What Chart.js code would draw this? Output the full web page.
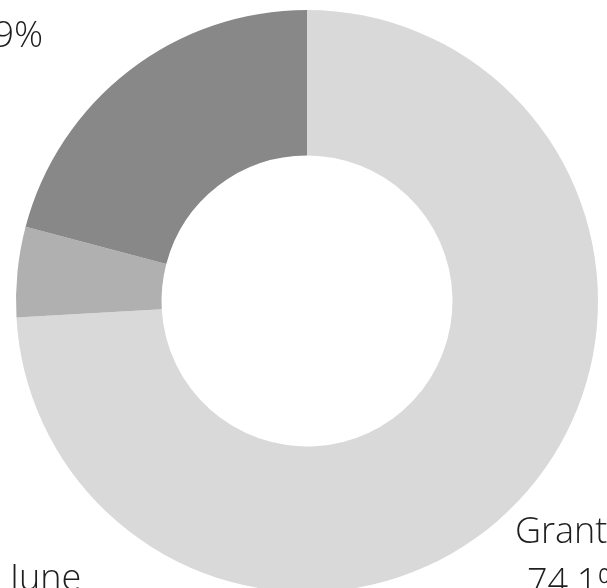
<!DOCTYPE html>
<html>
<head>
<meta charset="utf-8">
<style>
  html, body { margin: 0; padding: 0; background: #ffffff; overflow: hidden; }
  #wrap { width: 607px; height: 588px; overflow: hidden; }
  canvas { display: block; }
</style>
<script src="https://cdn.jsdelivr.net/npm/chart.js@4.4.1/dist/chart.umd.min.js"></script>
</head>
<body>
<div id="wrap"><canvas id="c" width="607" height="600"></canvas></div>
<script>
const categories = ["Grant", "June", "Other"];
const shares = [74.1, 5.0, 20.9];
const sliceColors = ["#d9d9d9", "#b0b0b0", "#888888"];

// label text anchors (relative to the doughnut centre), style only
const labelPlacement = [
  { dx: 208, dy: 242, align: "left", dx2: 220 },
  { dx: -297, dy: 289, align: "left", dx2: -297 },
  { dx: -264, dy: -305, align: "right", dx2: -264 }
];

const outerLabels = {
  id: "outerLabels",
  afterDatasetsDraw(chart) {
    const ctx = chart.ctx;
    const meta = chart.getDatasetMeta(0);
    const arc0 = meta.data[0];
    const cx = arc0.x, cy = arc0.y;
    ctx.save();
    ctx.fillStyle = "#1e1e1e";
    ctx.font = "300 36px 'Open Sans'";
    ctx.textBaseline = "alphabetic";
    const lineH = 51;
    categories.forEach((name, i) => {
      const p = labelPlacement[i];
      ctx.textAlign = p.align;
      ctx.fillText(name, cx + p.dx, cy + p.dy);
      ctx.fillText(shares[i].toFixed(1) + "%", cx + p.dx2, cy + p.dy + lineH);
    });
    ctx.restore();
  }
};

new Chart(document.getElementById("c"), {
  type: "doughnut",
  data: {
    labels: categories,
    datasets: [{
      data: shares,
      backgroundColor: sliceColors,
      borderWidth: 0,
      hoverOffset: 0
    }]
  },
  options: {
    responsive: false,
    animation: false,
    cutout: "50%",
    layout: { padding: { left: 16, right: 9, top: 10, bottom: 8 } },
    plugins: {
      legend: { display: false },
      tooltip: { enabled: false }
    }
  },
  plugins: [outerLabels]
});
</script>
</body>
</html>
